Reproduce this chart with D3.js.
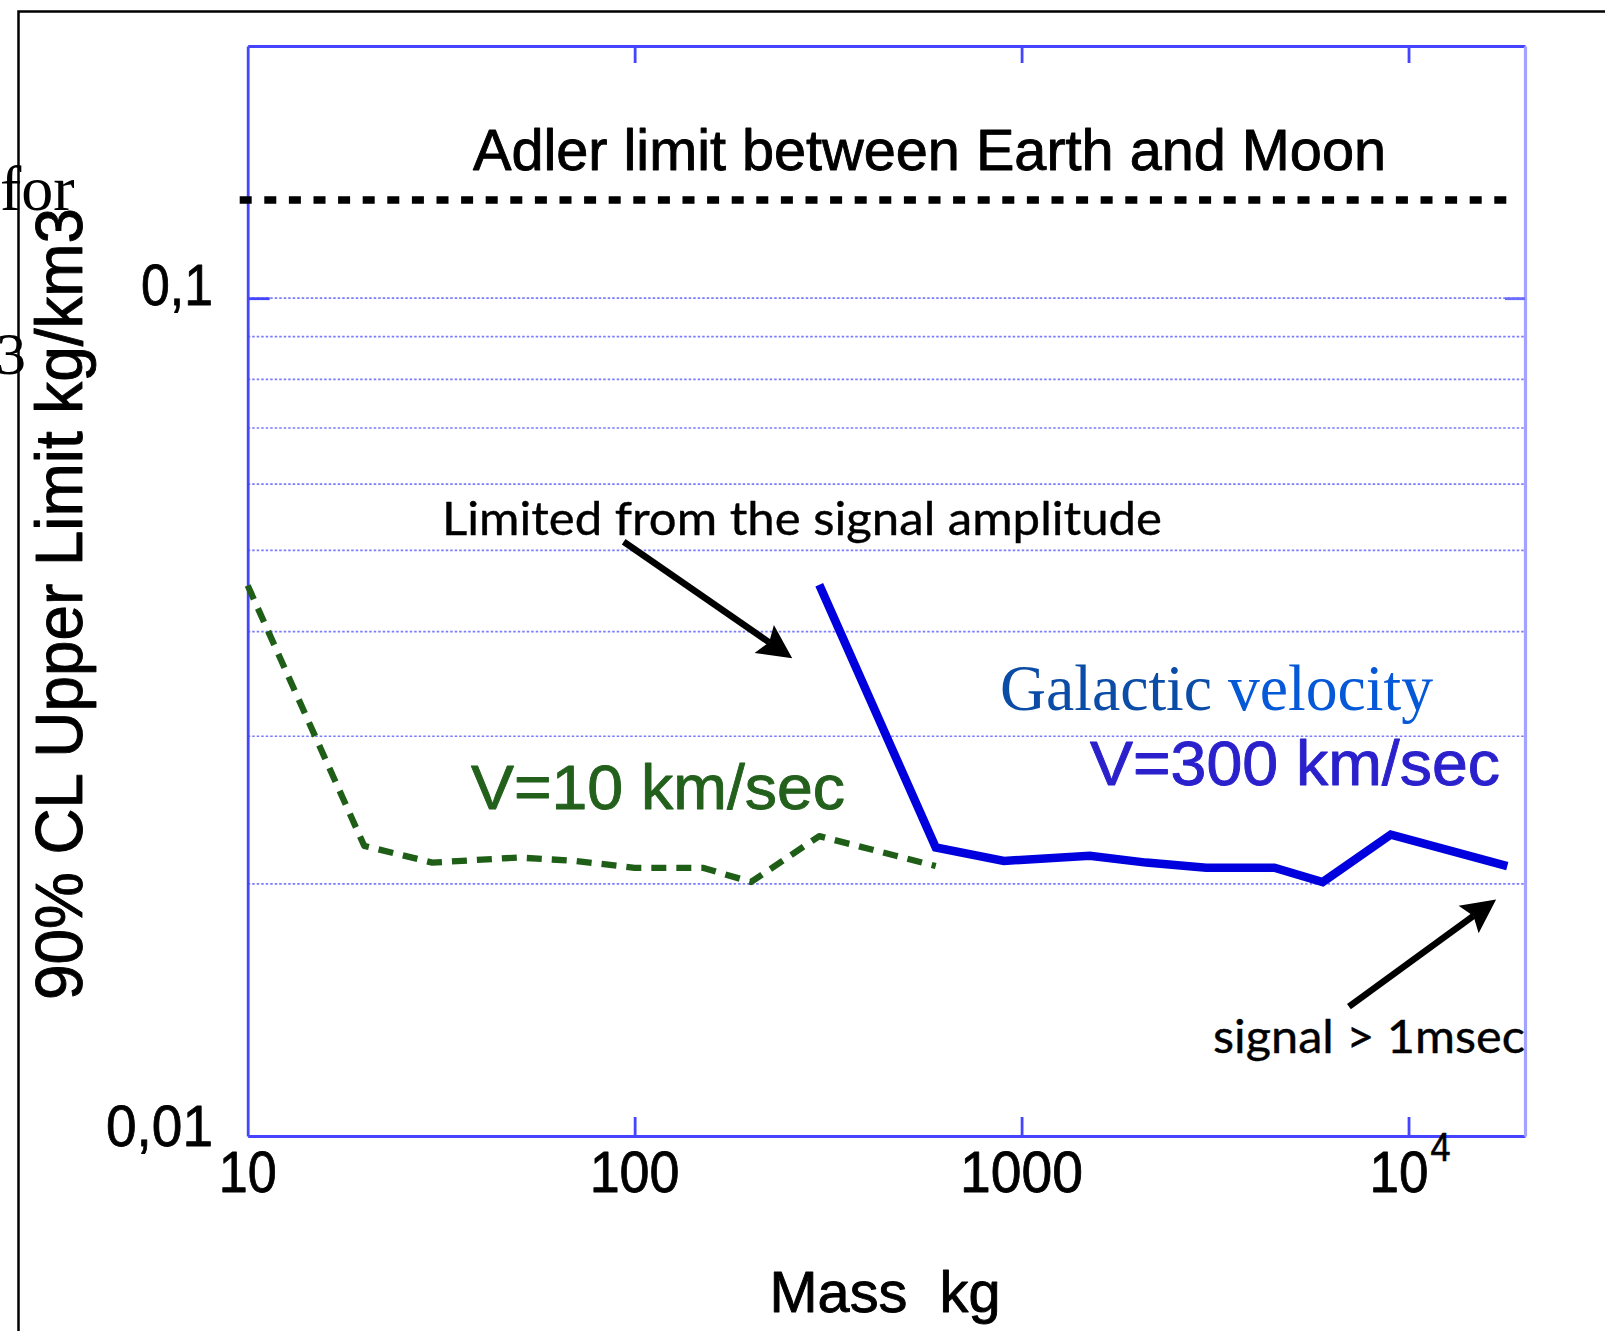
<!DOCTYPE html>
<html>
<head>
<meta charset="utf-8">
<script src="https://cdn.jsdelivr.net/npm/d3@7"></script>
<style>
  html, body { margin: 0; padding: 0; background: #fff; }
  svg { display: block; }
  .heavy { paint-order: stroke; stroke-linejoin: round; }
</style>
</head>
<body>
<svg id="chart" width="1605" height="1331"></svg>
<script>
// Upper limit on mass density vs. object mass, two velocity hypotheses
const massSlow  = [10, 20, 30, 50, 70, 100, 150, 200, 300, 600];
const limitSlow = [0.0454, 0.0222, 0.0212, 0.0215, 0.0213, 0.0209, 0.0209, 0.0201, 0.0228, 0.0210];

const massFast  = [300, 600, 900, 1500, 2100, 3000, 4500, 6000, 9000, 18000];
const limitFast = [0.0455, 0.0221, 0.0213, 0.0216, 0.0212, 0.0209, 0.0209, 0.0201, 0.0229, 0.0210];

const adlerLimit = 0.131;

const xTickValues = [10, 100, 1000, 10000];
const xTickLabels = ["10", "100", "1000", "10|4"];
const yTickValues = [0.1, 0.01];
const yTickLabels = ["0,1", "0,01"];
const yGridValues = [0.02, 0.03, 0.04, 0.05, 0.06, 0.07, 0.08, 0.09, 0.1];

(function draw() {
const svg = d3.select("#chart");
svg.append("rect").attr("width", 1605).attr("height", 1331).attr("fill", "#fff");

const plotL = 247.7, plotR = 1525, plotT = 46, plotB = 1136;
const x = d3.scaleLog().domain([10, 20000]).range([plotL, plotR]);
const y = d3.scaleLog().domain([0.01, 0.2]).range([plotB, plotT]);

const SANS = "'Liberation Sans', Arial, sans-serif";
const SERIF = "'Liberation Serif', 'Times New Roman', serif";
const HUMANIST = "Lato, 'Open Sans', sans-serif";

// text helper: slightly heavier strokes for the sans labels
function label(px, py, str, opts) {
  const t = svg.append("text").attr("x", px).attr("y", py)
    .attr("font-family", opts.font || SANS).attr("font-size", opts.size)
    .attr("fill", opts.color || "#000");
  if (opts.anchor) t.attr("text-anchor", opts.anchor);
  if (opts.len) t.attr("textLength", opts.len).attr("lengthAdjust", "spacingAndGlyphs");
  if (opts.weight) t.attr("class", "heavy").attr("stroke", opts.color || "#000").attr("stroke-width", opts.weight);
  if (opts.transform) t.attr("transform", opts.transform);
  t.text(str);
  return t;
}

// slide text peeking out behind the figure
label(0, 210, "for", { font: SERIF, size: 64 });
label(26, 374, "3", { font: SERIF, size: 60, anchor: "end" });

// outer frame
svg.append("path").attr("d", "M18.5,1331 V11.5 H1605")
  .attr("fill", "none").attr("stroke", "#000").attr("stroke-width", 2.5);

// dotted horizontal grid
svg.append("g").selectAll("line").data(yGridValues).join("line")
  .attr("x1", plotL).attr("x2", plotR)
  .attr("y1", d => y(d)).attr("y2", d => y(d))
  .attr("stroke", "#7b7bff").attr("stroke-width", 1.7)
  .attr("stroke-dasharray", "2.5 2");

// axes
const axisColor = "#4545ff";
const gBottom = svg.append("g").attr("transform", `translate(0,${plotB})`)
  .call(d3.axisBottom(x).tickValues(xTickValues.slice(1)).tickSizeInner(-19).tickSizeOuter(0).tickFormat(""));
const gTop = svg.append("g").attr("transform", `translate(0,${plotT})`)
  .call(d3.axisTop(x).tickValues(xTickValues.slice(1)).tickSizeInner(-17).tickSizeOuter(0).tickFormat(""));
const gLeft = svg.append("g").attr("transform", `translate(${plotL},0)`)
  .call(d3.axisLeft(y).tickValues([0.1]).tickSizeInner(-22).tickSizeOuter(0).tickFormat(""));
const gRight = svg.append("g").attr("transform", `translate(${plotR},0)`)
  .call(d3.axisRight(y).tickValues([0.1]).tickSizeInner(-20).tickSizeOuter(0).tickFormat(""));
[gBottom, gTop, gLeft].forEach(g => {
  g.select(".domain").attr("stroke", axisColor).attr("stroke-width", 2.8);
  g.selectAll(".tick line").attr("stroke", axisColor).attr("stroke-width", 2.8);
});
gRight.select(".domain").attr("stroke", "#a3a3ff").attr("stroke-width", 3.2);
gRight.selectAll(".tick line").attr("stroke", "#6c6cff").attr("stroke-width", 2.8);

// x tick labels
const xLabelWidths = { "10": 58, "100": 90, "1000": 123 };
xTickValues.forEach((v, i) => {
  const lab = xTickLabels[i];
  if (lab.includes("|")) {
    const [base, exp] = lab.split("|");
    label(x(v) - 39, 1191.5, base, { size: 58, len: 59, weight: 0.8 });
    label(x(v) + 22, 1161, exp, { size: 40, len: 20, weight: 0.6 });
  } else {
    label(x(v), 1191.5, lab, { size: 58, anchor: "middle", len: xLabelWidths[lab], weight: 0.8 });
  }
});

// y tick labels
const yLabelWidths = [72, 107];
const yLabelShift = [7, 10];
yTickValues.forEach((v, i) => {
  label(213, y(v) + yLabelShift[i], yTickLabels[i], { size: 58, anchor: "end", len: yLabelWidths[i], weight: 0.8 });
});

// axis titles
label(885, 1312, "Mass  kg", { size: 58, anchor: "middle", len: 231, weight: 0.9 }).style("white-space", "pre");
label(0, 0, "90% CL Upper Limit kg/km3", { size: 66, anchor: "middle", len: 792, weight: 0.9,
  transform: "translate(82,604) rotate(-90)" });

// Adler limit
svg.append("line").attr("x1", plotL - 8).attr("x2", 1508)
  .attr("y1", y(adlerLimit)).attr("y2", y(adlerLimit))
  .attr("stroke", "#000").attr("stroke-width", 7.5).attr("stroke-dasharray", "12 12.6");
label(473, 170, "Adler limit between Earth and Moon", { size: 58, len: 913, weight: 0.9 });

// series
const line = d3.line().x(d => x(d[0])).y(d => y(d[1]));
svg.append("path").datum(d3.zip(massSlow, limitSlow)).attr("d", line)
  .attr("fill", "none").attr("stroke", "#1e5e17").attr("stroke-width", 6.3)
  .attr("stroke-dasharray", "15 10").attr("stroke-linejoin", "round");
svg.append("path").datum(d3.zip(massFast, limitFast)).attr("d", line)
  .attr("fill", "none").attr("stroke", "#0000de").attr("stroke-width", 8.5)
  .attr("stroke-linejoin", "miter");

// series labels
label(471, 809, "V=10 km/sec", { size: 63, color: "#22601c", len: 374, weight: 0.9 });
label(1090, 785, "V=300 km/sec", { size: 63, color: "#2a20cc", len: 410, weight: 0.9 });
const gal = svg.append("text").attr("x", 1000).attr("y", 710)
  .attr("font-family", SERIF).attr("font-size", 65)
  .attr("textLength", 433).attr("lengthAdjust", "spacingAndGlyphs");
gal.append("tspan").attr("fill", "#0b4ca6").text("Galactic ");
gal.append("tspan").attr("fill", "#0558d8").text("velocity");

// annotations with arrows
function arrow(m0, l0, m1, l1) {
  const sx = x(m0), sy = y(l0), tx = x(m1), ty = y(l1);
  const len = Math.hypot(tx - sx, ty - sy);
  const ux = (tx - sx) / len, uy = (ty - sy) / len;
  const nx = -uy, ny = ux;
  const L = 34, W = 17, notch = 6;
  const bx = tx - L * ux, by = ty - L * uy;
  const mx = tx - (L - notch) * ux, my = ty - (L - notch) * uy;
  svg.append("line").attr("x1", sx).attr("y1", sy).attr("x2", mx).attr("y2", my)
    .attr("stroke", "#000").attr("stroke-width", 6.5);
  svg.append("path")
    .attr("d", `M${tx},${ty} L${bx + W * nx},${by + W * ny} L${mx},${my} L${bx - W * nx},${by - W * ny} Z`)
    .attr("fill", "#000");
}
arrow(93.7, 0.0512, 255.4, 0.03717);
arrow(7015, 0.01427, 16840, 0.01916);

label(442, 535, "Limited from the signal amplitude", { font: HUMANIST, size: 47, len: 720, weight: 0.4 });
label(1213, 1053, "signal > 1msec", { font: HUMANIST, size: 47, len: 312, weight: 0.4 });
})();
</script>
</body>
</html>
